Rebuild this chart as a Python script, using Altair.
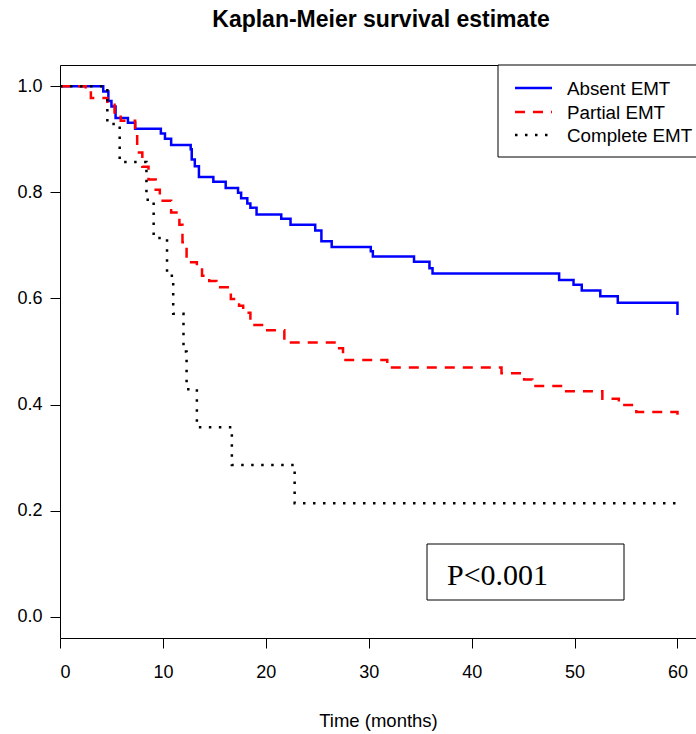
import altair as alt
import pandas as pd

groups = ["Absent EMT", "Partial EMT", "Complete EMT"]
colors = ["#0000FF", "#FF0000", "#000000"]
dashes = [[1, 0], [10, 8], [2.5, 7.5]]

absent_t = [0, 4.2, 4.7, 5.0, 5.4, 6.6, 7.3, 9.8, 10.2, 10.8, 12.7, 12.8, 13.1, 13.5, 14.9, 16.1,
            17.3, 17.6, 18.2, 18.5, 19.1, 21.5, 22.4, 24.8, 25.4, 26.4, 30.2, 30.4, 34.4, 35.9,
            36.2, 48.5, 49.9, 50.7, 52.5, 54.2, 60.0]
absent_s = [1.0, 0.990, 0.972, 0.962, 0.940, 0.931, 0.920, 0.911, 0.901, 0.889, 0.881, 0.862, 0.849,
            0.829, 0.820, 0.808, 0.799, 0.789, 0.779, 0.771, 0.758, 0.750, 0.739, 0.728, 0.708,
            0.697, 0.689, 0.679, 0.669, 0.657, 0.647, 0.635, 0.626, 0.615, 0.604, 0.592, 0.569]

partial_t = [0, 2.5, 3.0, 4.6, 5.3, 5.9, 7.3, 7.5, 8.0, 8.6, 9.3, 9.7, 10.8, 11.6, 11.9, 12.3,
             13.3, 13.8, 14.5, 15.2, 16.6, 17.4, 17.8, 18.5, 20.0, 21.8, 26.9, 27.5, 31.8, 42.9,
             45.1, 45.9, 48.9, 52.7, 54.3, 56.0, 60.0]
partial_s = [1.0, 0.988, 0.978, 0.965, 0.947, 0.935, 0.909, 0.875, 0.848, 0.824, 0.805, 0.784,
             0.762, 0.739, 0.706, 0.668, 0.657, 0.643, 0.633, 0.621, 0.599, 0.586, 0.573, 0.550,
             0.540, 0.517, 0.506, 0.484, 0.470, 0.459, 0.447, 0.435, 0.425, 0.411, 0.399, 0.386,
             0.370]

complete_t = [0, 4.6, 5.8, 8.4, 9.1, 10.4, 11.0, 12.0, 12.3, 13.3, 16.7, 22.8, 60.0]
complete_s = [1.0, 0.929, 0.857, 0.786, 0.714, 0.643, 0.571, 0.500, 0.429, 0.357, 0.286, 0.214,
              0.214]

x_ticks = [0, 10, 20, 30, 40, 50, 60]
y_ticks = [0.0, 0.2, 0.4, 0.6, 0.8, 1.0]
p_label = ["P<0.001"]

rows = []
for g, ts, ss in [(groups[0], absent_t, absent_s), (groups[1], partial_t, partial_s),
                  (groups[2], complete_t, complete_s)]:
    for t, s in zip(ts, ss):
        rows.append({"group": g, "time": t, "surv": s})
df = pd.DataFrame(rows)

color_scale = alt.Scale(domain=groups, range=colors)
dash_scale = alt.Scale(domain=groups, range=dashes)

SANS = "Liberation Sans"

lines = alt.Chart(df).mark_line(interpolate="step-after", strokeWidth=2.5).encode(
    x=alt.X("time:Q", scale=alt.Scale(domain=[0, 61.8], nice=False, zero=False),
            axis=alt.Axis(values=x_ticks, title="Time (months)", format="d")),
    y=alt.Y("surv:Q", scale=alt.Scale(domain=[-0.04, 1.04], nice=False, zero=False),
            axis=alt.Axis(values=y_ticks, title=None, format=".1f")),
    color=alt.Color("group:N", scale=color_scale, legend=None),
    strokeDash=alt.StrokeDash("group:N", scale=dash_scale, legend=None),
    order=alt.Order("time:Q"),
)

leg_df = pd.DataFrame({"group": groups})
legend_box = alt.Chart(leg_df).mark_rect(fill="white", stroke="black", strokeWidth=1).encode(
    x=alt.value(438), x2=alt.value(660), y=alt.value(0), y2=alt.value(92)
).transform_filter(alt.datum.group == groups[0])

legend_layers = [legend_box]
row_y = [23, 47, 70]
for i, g in enumerate(groups):
    legend_layers.append(
        alt.Chart(leg_df).transform_filter(alt.datum.group == g).mark_rule(strokeWidth=2.5).encode(
            x=alt.value(455), x2=alt.value(492), y=alt.value(row_y[i]),
            color=alt.Color("group:N", scale=color_scale, legend=None),
            strokeDash=alt.StrokeDash("group:N", scale=dash_scale, legend=None),
        )
    )
    legend_layers.append(
        alt.Chart(leg_df).transform_filter(alt.datum.group == g).mark_text(
            align="left", baseline="middle", font=SANS, fontSize=18.8, color="black"
        ).encode(x=alt.value(507), y=alt.value(row_y[i] + 1), text="group:N")
    )

p_df = pd.DataFrame({"label": p_label})
p_box = alt.Chart(p_df).mark_rect(fill="white", stroke="black", strokeWidth=1).encode(
    x=alt.value(367), x2=alt.value(564), y=alt.value(479), y2=alt.value(535)
)
p_text = alt.Chart(p_df).mark_text(
    align="left", baseline="alphabetic", font="Liberation Serif", fontSize=30, color="black"
).encode(x=alt.value(387), y=alt.value(520), text="label:N")

chart = alt.layer(lines, *legend_layers, p_box, p_text).properties(
    width=636, height=573,
    padding={"left": 60, "top": 65, "right": 0, "bottom": 96},
    autosize=alt.AutoSizeParams(type="none"),
    title=alt.TitleParams("Kaplan-Meier survival estimate", font=SANS, fontSize=23,
                          fontWeight="bold", color="black", anchor="middle", offset=33, dx=3),
    background="white",
).configure_view(stroke="black", strokeWidth=1).configure_axis(
    domain=False, grid=False, ticks=True, tickColor="black", tickSize=10, tickWidth=1,
    labelFont=SANS, labelFontSize=18, labelColor="black",
    titleFont=SANS, titleFontSize=18.5, titleColor="black", titleFontWeight="normal",
).configure_axisX(labelPadding=15, titlePadding=30).configure_axisY(labelPadding=8)

chart.save("out.html", embed_options={"renderer": "svg", "actions": False})
